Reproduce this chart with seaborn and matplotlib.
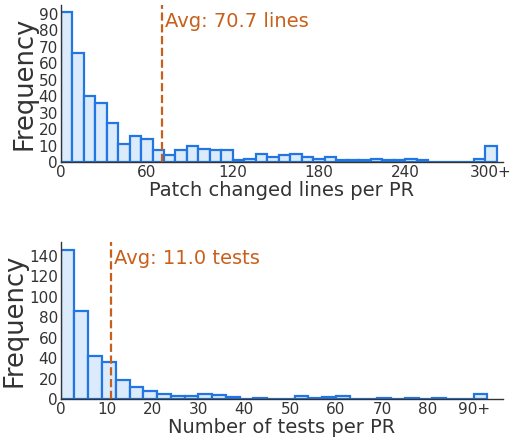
import numpy as np
import pandas as pd
import matplotlib
matplotlib.use("Agg")
import matplotlib.pyplot as plt
import seaborn as sns

# counts per bin
line_counts = [91, 66, 40, 36, 24, 11, 16, 14, 7, 4, 7, 10, 8, 7, 7, 1, 2, 5, 3,
               4, 5, 3, 2, 3, 1, 1, 1, 2, 1, 1, 2, 1, 0, 0, 0, 0, 2, 10]
line_width = 8          # patch lines bins, last one is 300+
line_avg = 70.7
line_ticks = [0, 60, 120, 180, 240, 300]
line_ticklabels = ["0", "60", "120", "180", "240", "300+"]

test_counts = [146, 86, 42, 36, 19, 12, 8, 5, 3, 3, 5, 4, 2, 0, 1, 0, 0, 3, 1, 2,
               3, 0, 0, 1, 0, 1, 0, 1, 0, 0, 5]
test_width = 3          # tests bins, last one is 90+
test_avg = 11.0
test_ticks = [0, 10, 20, 30, 40, 50, 60, 70, 80, 90]
test_ticklabels = ["0", "10", "20", "30", "40", "50", "60", "70", "80", "90+"]

sns.set_style("white")
plt.rcParams['font.family'] = ['DejaVu Sans']

fill = "#dcebfb"
edge = "#2176e2"
avg_color = "#c8601c"
text_color = "#333333"

fig = plt.figure(figsize=(5.12, 4.45), dpi=100)
ax1 = fig.add_axes([0.1186, 0.636, 0.863, 0.353])
ax2 = fig.add_axes([0.1186, 0.1027, 0.863, 0.353])


def draw(ax, counts, width, avg, unit, ticks, ticklabels, xlabel, xmax, yticks):
    n = len(counts)
    df = pd.DataFrame({"value": np.arange(n) * width + width / 2, "count": counts})
    sns.histplot(data=df, x="value", weights="count", binwidth=width,
                 binrange=(0, n * width), ax=ax,
                 color=fill, edgecolor=edge, linewidth=1.6, alpha=1)
    ax.axvline(avg, color=avg_color, linestyle="--", linewidth=1.6)
    ax.text(avg + xmax * 0.006, 0.895, f"Avg: {avg:.1f} {unit}", color=avg_color,
            fontsize=14, transform=ax.get_xaxis_transform(), va="center")
    ax.set_xlim(0, xmax)
    ax.set_xticks(ticks)
    ax.set_xticklabels(ticklabels)
    ax.set_yticks(yticks)
    ax.set_xlabel(xlabel, fontsize=14, color=text_color, labelpad=1)
    ax.set_ylabel("Frequency", fontsize=18.5, color=text_color, labelpad=1)
    ax.tick_params(length=0, pad=2, labelsize=11, colors=text_color)
    sns.despine(ax=ax)
    for s in ["left", "bottom"]:
        ax.spines[s].set_color(text_color)
        ax.spines[s].set_linewidth(1.0)


draw(ax1, line_counts, line_width, line_avg, "lines", line_ticks, line_ticklabels,
     "Patch changed lines per PR", 308, range(0, 91, 10))
draw(ax2, test_counts, test_width, test_avg, "tests", test_ticks, test_ticklabels,
     "Number of tests per PR", 96.3, range(0, 141, 20))

fig.savefig("out.png", dpi=100)
